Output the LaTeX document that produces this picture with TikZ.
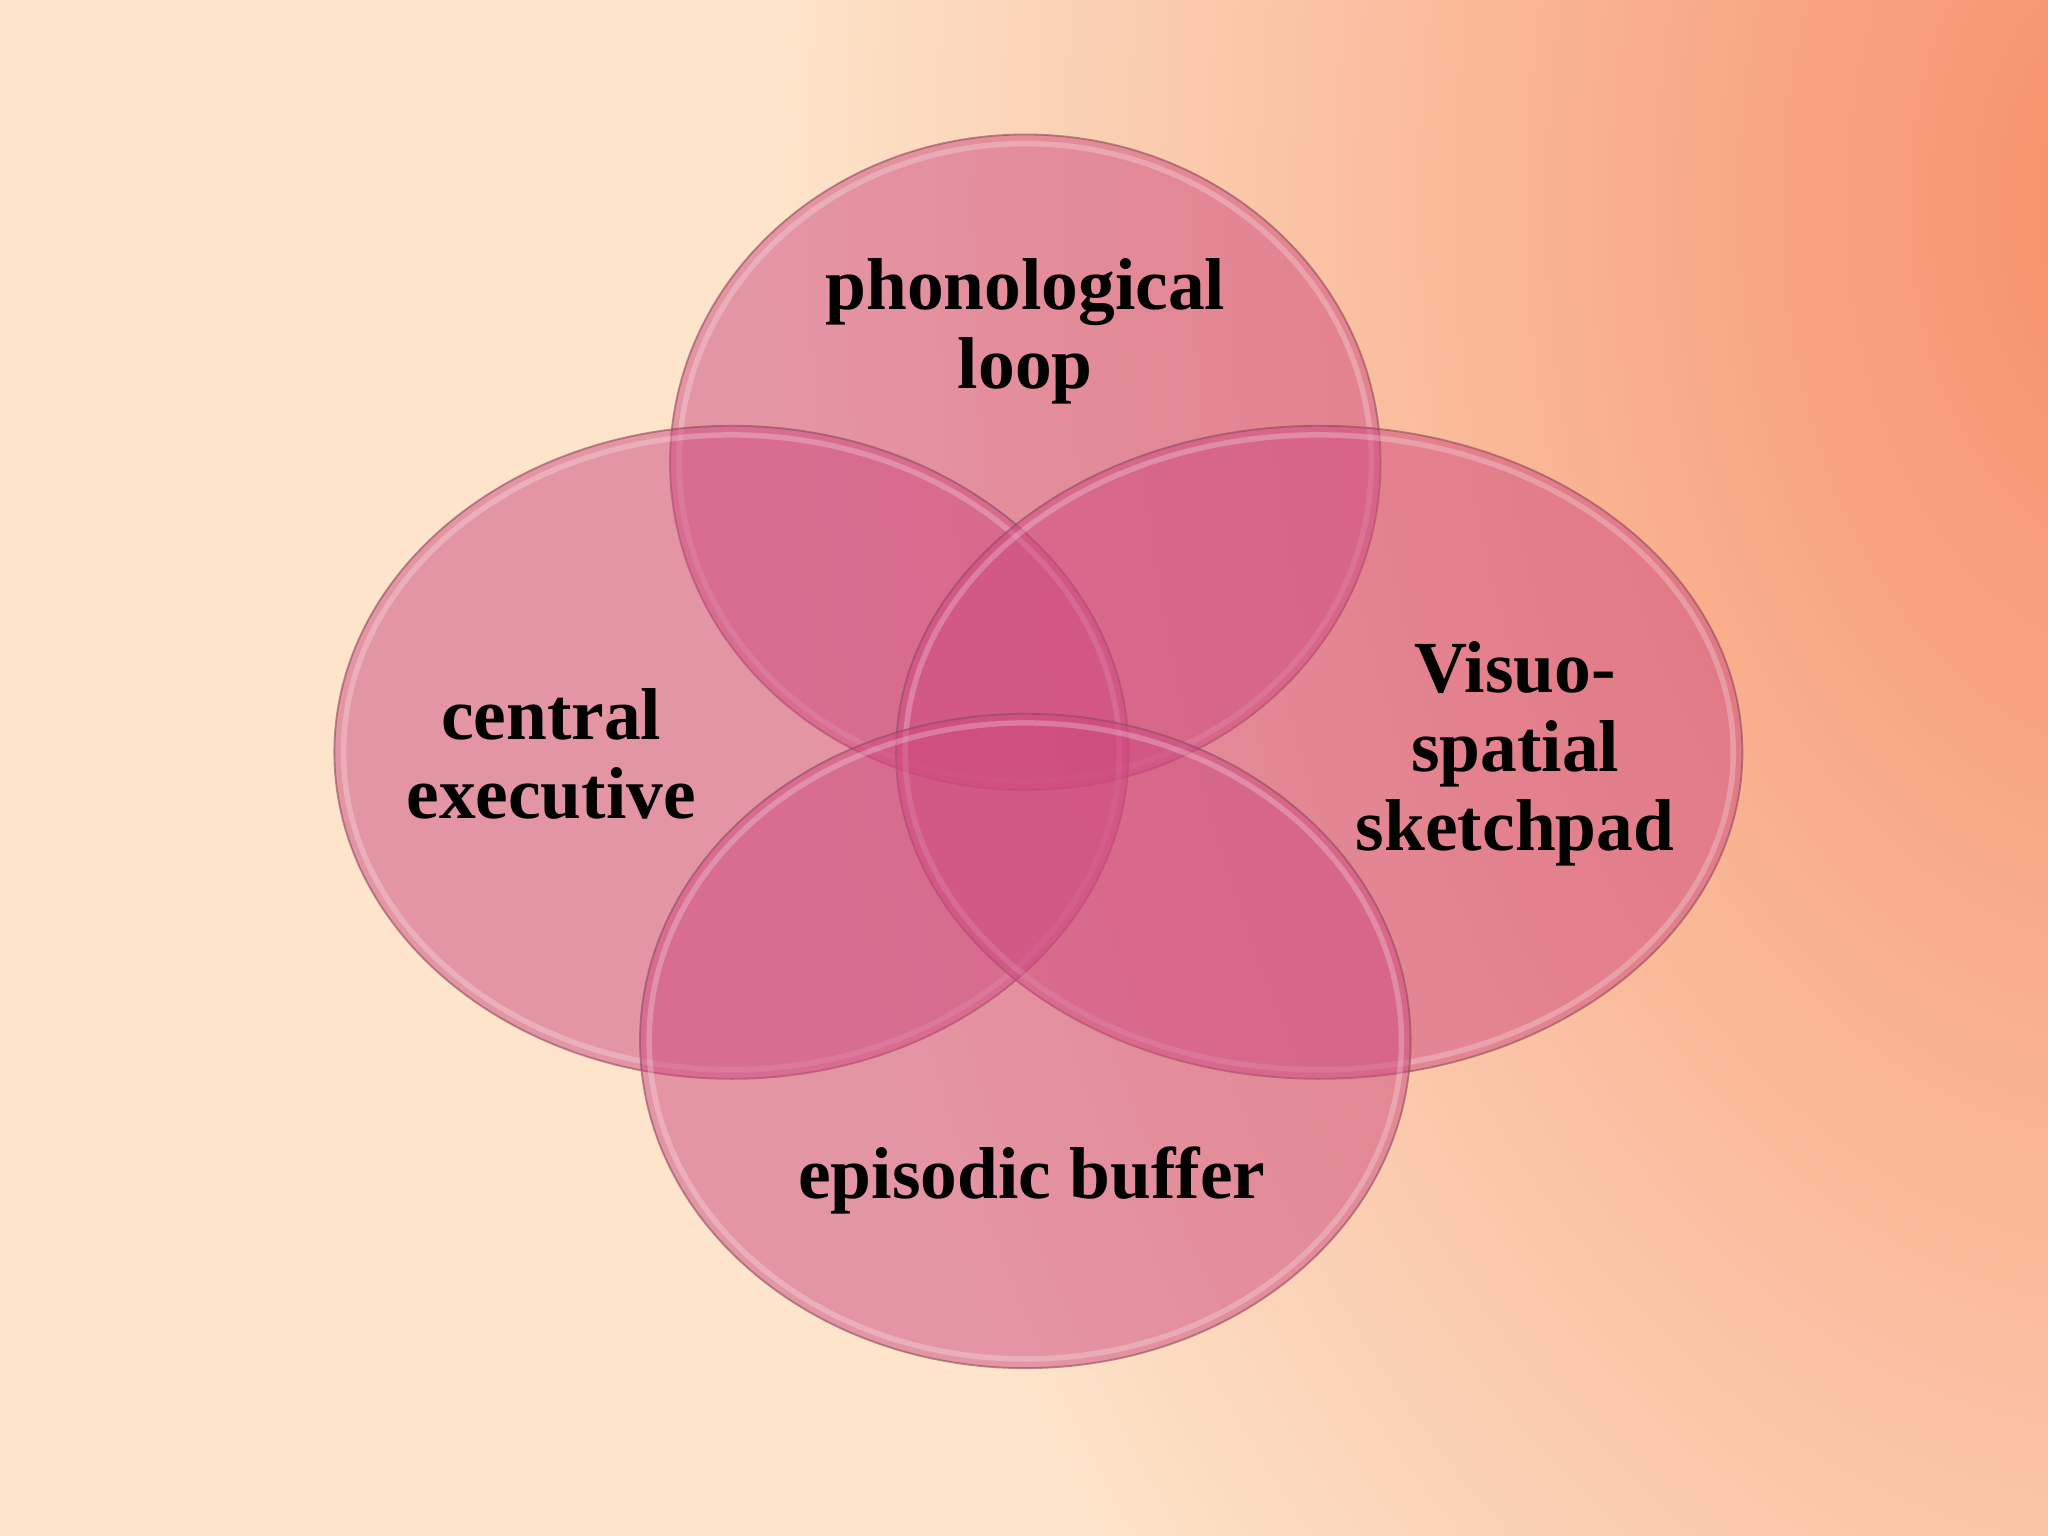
\documentclass[tikz,border=0pt]{standalone}
\usepackage{fontspec}
\setmainfont{Liberation Serif}
\usepackage{tikz}
\usetikzlibrary{shapes,positioning,calc}

\definecolor{bgpeach}{HTML}{FDE4CA}
\definecolor{bgsalmon}{HTML}{F68E68}
\definecolor{blobpink}{HTML}{CD477F}
\definecolor{blobedge}{HTML}{8E4A5C}

\begin{document}
\begin{tikzpicture}[
    blob/.style = {ellipse, inner sep=0pt, fill=blobpink, fill opacity=0.5, draw=blobedge, draw opacity=0.6, line width=0.4pt},
    rim/.style = {ellipse, inner sep=0pt, draw=white, draw opacity=0.25, line width=1.2pt},
    tag/.style = {text=black, align=center, font=\fontsize{16}{17.2}\selectfont\bfseries}
]
    % Background
    \useasboundingbox (0,0) rectangle (15.68,11.76);
    \fill[bgpeach] (0,0) rectangle (15.68,11.76);
    \begin{scope}
        \clip (0,0) rectangle (15.68,11.76);
        \shade[inner color=bgsalmon, outer color=bgpeach] (16.4,10.2) ellipse (10.5cm and 16cm);
    \end{scope}

    % Circles
    \node [blob, minimum width=5.44cm, minimum height=5.02cm] (loop) at (7.85,8.22) {};
    \node [rim, minimum width=5.30cm, minimum height=4.88cm] (looprim) at (loop.center) {};
    \node [blob, minimum width=6.08cm, minimum height=5.00cm] (exec) at (5.60,6.00) {};
    \node [rim, minimum width=5.94cm, minimum height=4.86cm] (execrim) at (exec.center) {};
    \node [blob, minimum width=6.48cm, minimum height=5.00cm] (pad) at (10.10,6.00) {};
    \node [rim, minimum width=6.34cm, minimum height=4.86cm] (padrim) at (pad.center) {};
    \node [blob, minimum width=5.90cm, minimum height=5.01cm] (buffer) at (7.85,3.79) {};
    \node [rim, minimum width=5.76cm, minimum height=4.87cm] (bufferrim) at (buffer.center) {};

    % Labels
    \node [tag] (looptext) at (7.85,9.22) {phonological\\loop};
    \node [tag] (exectext) at (4.22,5.99) {central\\executive};
    \node [tag] (padtext) at (11.60,5.99) {Visuo-\\spatial\\sketchpad};
    \node [tag] (buffertext) at (7.90,2.72) {episodic buffer};

\end{tikzpicture}
\end{document}
